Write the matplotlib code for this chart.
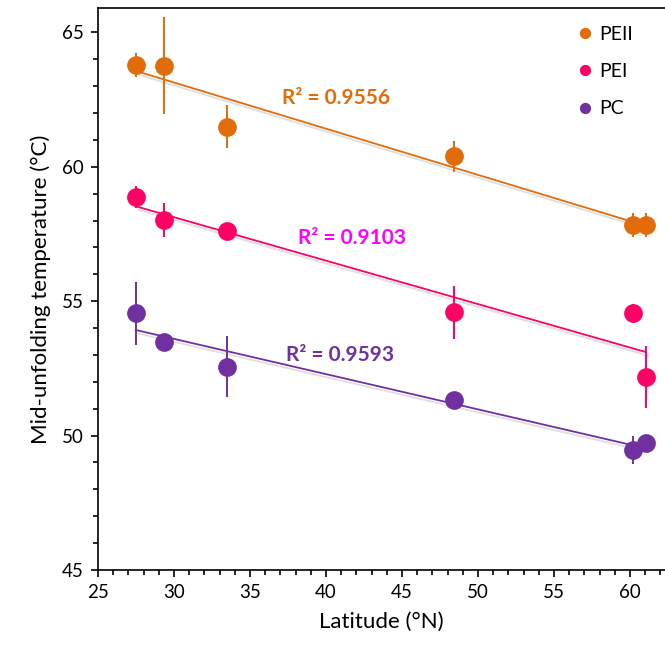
import numpy as np
import matplotlib
matplotlib.use("Agg")
import matplotlib.pyplot as plt
import matplotlib.patheffects as pe
from matplotlib.ticker import MultipleLocator

plt.rcParams['font.family'] = ['Lato', 'DejaVu Sans']

latitude = [27.48, 29.34, 33.49, 48.44, 60.2, 61.05]
peii = [63.79, 63.76, 61.49, 60.39, 57.82, 57.82]
peii_err = [0.45, 1.8, 0.8, 0.58, 0.45, 0.45]
pei = [58.87, 58.03, 57.6, 54.58, 54.55, 52.19]
pei_err = [0.42, 0.64, 0.2, 1.0, 0.35, 1.15]
pc = [54.55, 53.47, 52.57, 51.33, 49.47, 49.71]
pc_err = [1.17, 0.2, 1.12, 0.2, 0.53, 0.2]

series = [
    ("PEII", peii, peii_err, "#E36C0A", "#E36C0A", "R² = 0.9556", (336, 98)),
    ("PEI", pei, pei_err, "#FF0066", "#FF00FF", "R² = 0.9103", (352, 238)),
    ("PC", pc, pc_err, "#7030A0", "#7030A0", "R² = 0.9593", (340, 355)),
]

W, H = 665, 650
fig = plt.figure(figsize=(W / 100, H / 100), dpi=100)
ax = fig.add_axes([98 / W, 1 - 570 / H, (665 - 98) / W, (570 - 8) / H])
x0, x1 = 25, 25 + (665 - 98) / 15.2
y0, y1 = 45, 45 + (570 - 8) / 26.88
ax.set_xlim(x0, x1)
ax.set_ylim(y0, y1)

def to_data(px, py):
    return (x0 + (px - 98) / 15.2, y0 + (570 - py) / 26.88)

x = np.array(latitude)
shadow = [pe.SimpleLineShadow(offset=(1.5, -2.5), shadow_color='gray', alpha=0.25), pe.Normal()]
for name, y, err, col, tcol, rtxt, tpos in series:
    y = np.array(y)
    k, b = np.polyfit(x, y, 1)
    xs = np.array([x.min(), x.max()])
    ax.plot(xs, k * xs + b, color=col, lw=1.3, zorder=2, path_effects=shadow)
    ax.errorbar(x, y, yerr=err, fmt='none', ecolor=col, elinewidth=1.4, capsize=0, zorder=3)
    ax.plot(x, y, 'o', color=col, ms=13.5, mec='none', zorder=4, label=name)
    tx, ty = to_data(*tpos)
    ax.text(tx, ty, rtxt, color=tcol, fontsize=15, fontweight='bold', ha='center', va='center')

leg = ax.legend(loc='upper right', bbox_to_anchor=(0.975, 1.0), frameon=False, fontsize=14,
                markerscale=0.6, handlelength=0.6, handletextpad=0.45, labelspacing=1.05,
                borderaxespad=0.5)

ax.spines['right'].set_visible(False)
for s in ['left', 'bottom', 'top']:
    ax.spines[s].set_linewidth(1.2)
ax.xaxis.set_major_locator(MultipleLocator(5))
ax.xaxis.set_minor_locator(MultipleLocator(1))
ax.yaxis.set_major_locator(MultipleLocator(5))
ax.yaxis.set_minor_locator(MultipleLocator(1))
ax.tick_params(which='major', direction='out', length=5, width=1.2, labelsize=13.5, pad=5)
ax.tick_params(which='minor', direction='out', length=3.5, width=1.2)
ax.tick_params(top=False, right=False, which='both')
ax.set_xlabel("Latitude (°N)", fontsize=16, labelpad=8)
ax.set_ylabel("Mid-unfolding temperature (°C)", fontsize=16, labelpad=8)

fig.savefig("out.png", dpi=100)
